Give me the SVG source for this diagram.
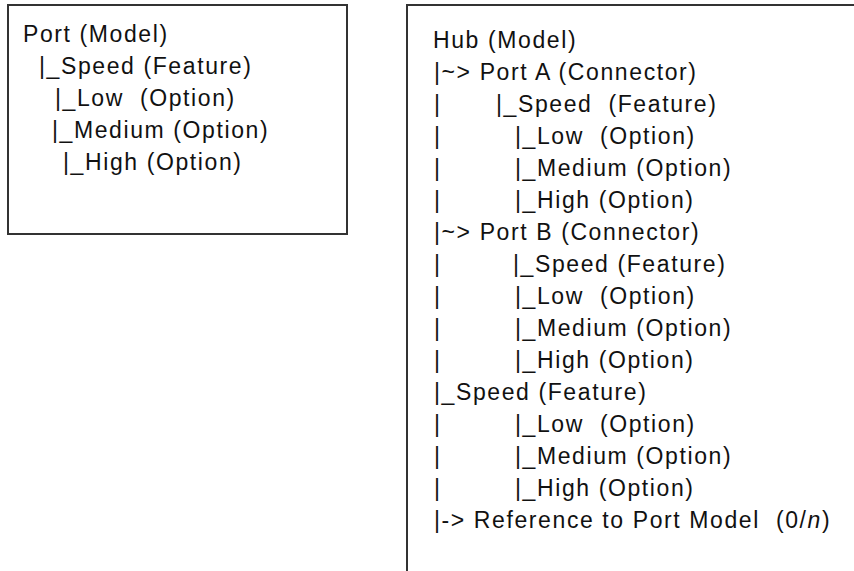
<svg xmlns="http://www.w3.org/2000/svg" width="854" height="571" viewBox="0 0 854 571">
<style>
.box{fill:#ffffff;stroke:#333333;stroke-width:2}
.t{font-family:"Liberation Sans",Arial,sans-serif;font-size:23px;letter-spacing:1.6px;fill:#111111}
</style>
<rect width="854" height="571" fill="#ffffff"/>
<g id="port-model">
<rect class="box" x="8" y="5" width="339" height="229"/>
<text class="t" x="23" y="42">Port (Model)</text>
<text class="t" x="39" y="74">|_Speed (Feature)</text>
<text class="t" x="55" y="106" xml:space="preserve">|_Low  (Option)</text>
<text class="t" x="52" y="138">|_Medium (Option)</text>
<text class="t" x="63" y="170">|_High (Option)</text>
</g>
<g id="hub-model">
<rect class="box" x="407" y="5" width="470" height="600"/>
<text class="t" x="433" y="48">Hub (Model)</text>
<text class="t" x="434" y="80">|~&gt; Port A (Connector)</text>
<text class="t" y="112" xml:space="preserve"><tspan x="434">|</tspan><tspan x="496">|_Speed  (Feature)</tspan></text>
<text class="t" y="144" xml:space="preserve"><tspan x="434">|</tspan><tspan x="515">|_Low  (Option)</tspan></text>
<text class="t" y="176"><tspan x="434">|</tspan><tspan x="515">|_Medium (Option)</tspan></text>
<text class="t" y="208"><tspan x="434">|</tspan><tspan x="515">|_High (Option)</tspan></text>
<text class="t" x="434" y="240">|~&gt; Port B (Connector)</text>
<text class="t" y="272"><tspan x="434">|</tspan><tspan x="513">|_Speed (Feature)</tspan></text>
<text class="t" y="304" xml:space="preserve"><tspan x="434">|</tspan><tspan x="515">|_Low  (Option)</tspan></text>
<text class="t" y="336"><tspan x="434">|</tspan><tspan x="515">|_Medium (Option)</tspan></text>
<text class="t" y="368"><tspan x="434">|</tspan><tspan x="515">|_High (Option)</tspan></text>
<text class="t" x="434" y="400">|_Speed (Feature)</text>
<text class="t" y="432" xml:space="preserve"><tspan x="434">|</tspan><tspan x="515">|_Low  (Option)</tspan></text>
<text class="t" y="464"><tspan x="434">|</tspan><tspan x="515">|_Medium (Option)</tspan></text>
<text class="t" y="496"><tspan x="434">|</tspan><tspan x="515">|_High (Option)</tspan></text>
<text class="t" x="434" y="528" xml:space="preserve">|-&gt; Reference to Port Model  (0/<tspan font-style="italic">n</tspan>)</text>
</g>
<g id="connectors"/>
</svg>
